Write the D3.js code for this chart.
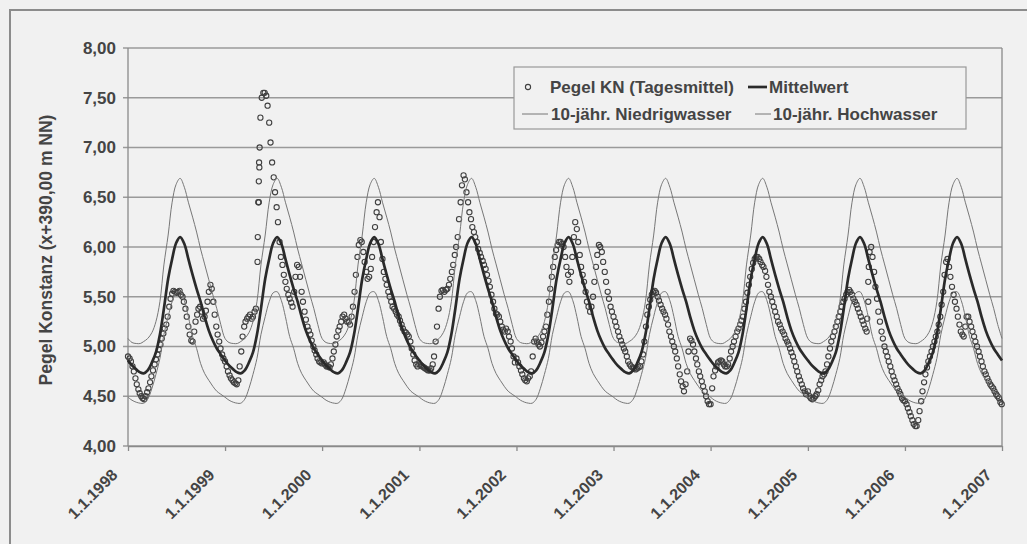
<!DOCTYPE html>
<html><head><meta charset="utf-8">
<script src="https://cdn.jsdelivr.net/npm/d3@7"></script>
<style>
html,body{margin:0;padding:0;background:#f1f1f1;}
svg{display:block;}
text{font-family:"Liberation Sans",Arial,sans-serif;}
</style></head>
<body>
<svg id="chart" width="1027" height="544"></svg>
<script>
// ---------- data ----------
const years = [1998,1999,2000,2001,2002,2003,2004,2005,2006];
const xTickLabels = ["1.1.1998","1.1.1999","1.1.2000","1.1.2001","1.1.2002","1.1.2003","1.1.2004","1.1.2005","1.1.2006","1.1.2007"];
const yTicks = [4.0,4.5,5.0,5.5,6.0,6.5,7.0,7.5,8.0];
// day of year for the long-term annual curves
const climDays = [0,15,31,46,59,74,90,105,120,135,151,166,181,196,212,227,243,258,273,288,304,319,334,349,365];
const mittelwert    = [4.86,4.81,4.77,4.74,4.73,4.76,4.84,4.94,5.12,5.38,5.68,5.88,6.04,6.10,6.03,5.88,5.72,5.58,5.45,5.30,5.16,5.06,4.98,4.92,4.86];
const hochwasser    = [5.08,5.04,5.03,5.03,5.05,5.08,5.14,5.25,5.45,5.82,6.12,6.45,6.63,6.69,6.60,6.45,6.30,6.15,5.98,5.83,5.67,5.52,5.38,5.22,5.08];
const niedrigwasser = [4.49,4.46,4.44,4.43,4.43,4.47,4.58,4.72,4.88,5.12,5.30,5.45,5.54,5.55,5.46,5.30,5.10,4.98,4.83,4.73,4.66,4.60,4.55,4.52,4.49];
// gauge readings (daily means), 66 readings per year, evenly spaced from 1 January
const pegel1998 = [4.90,4.88,4.85,4.80,4.75,4.68,4.62,4.57,4.53,4.50,4.48,4.47,4.50,4.54,4.58,4.64,4.70,4.76,4.82,4.87,4.92,4.97,5.02,5.08,5.13,5.18,5.22,5.30,5.40,5.48,5.53,5.56,5.55,5.54,5.55,5.56,5.52,5.50,5.45,5.38,5.30,5.20,5.12,5.06,5.05,5.15,5.25,5.32,5.38,5.40,5.35,5.28,5.30,5.36,5.45,5.55,5.62,5.58,5.45,5.32,5.20,5.12,5.05,4.98,4.92,4.88];
const pegel1999 = [4.85,4.80,4.75,4.71,4.68,4.66,4.64,4.63,4.62,4.66,4.80,4.95,5.10,5.20,5.25,5.28,5.30,5.32,5.28,5.30,5.35,5.38,5.85,6.45,7.30,7.50,7.55,7.55,7.52,7.42,7.25,7.05,6.85,6.70,6.55,6.40,6.25,6.05,5.90,5.82,5.72,5.65,5.58,5.52,5.48,5.44,5.40,5.55,5.70,5.82,5.80,5.70,5.55,5.45,5.35,5.27,5.20,5.16,5.12,5.06,5.00,4.96,4.92,4.88,4.85,4.84];
const pegel2000 = [4.83,4.84,4.82,4.80,4.80,4.79,4.82,4.88,4.95,5.02,5.10,5.16,5.20,5.25,5.30,5.32,5.28,5.25,5.25,5.22,5.30,5.40,5.55,5.72,5.90,6.02,6.07,6.05,5.95,5.85,5.75,5.68,5.70,5.78,5.90,6.05,6.20,6.35,6.45,6.30,6.05,5.88,5.75,5.68,5.62,5.55,5.50,5.45,5.40,5.38,5.35,5.32,5.30,5.26,5.22,5.18,5.15,5.14,5.12,5.10,5.05,4.98,4.92,4.86,4.82,4.80];
const pegel2001 = [4.82,4.81,4.80,4.79,4.78,4.77,4.76,4.76,4.78,4.82,4.90,5.05,5.20,5.38,5.50,5.56,5.57,5.55,5.57,5.58,5.62,5.68,5.75,5.82,5.92,6.00,6.10,6.28,6.45,6.62,6.72,6.68,6.55,6.45,6.35,6.28,6.20,6.15,6.10,6.05,5.98,5.94,5.90,5.86,5.82,5.78,5.72,5.66,5.60,5.52,5.45,5.38,5.33,5.32,5.30,5.25,5.20,5.17,5.15,5.18,5.15,5.10,5.05,4.98,4.90,4.84];
const pegel2002 = [4.88,4.84,4.80,4.76,4.72,4.68,4.66,4.65,4.68,4.70,4.75,4.90,5.05,5.08,5.05,5.02,5.00,5.04,5.10,5.15,5.20,5.32,5.45,5.58,5.70,5.80,5.90,5.97,6.02,6.05,6.05,6.03,6.00,5.90,5.80,5.72,5.65,5.75,5.90,6.10,6.25,6.18,6.05,5.92,5.80,5.72,5.65,5.55,5.45,5.40,5.35,5.40,5.50,5.65,5.80,5.92,6.02,6.00,5.95,5.85,5.75,5.65,5.55,5.48,5.40,5.35];
const pegel2003 = [5.30,5.25,5.20,5.15,5.10,5.06,5.02,4.98,4.95,4.90,4.85,4.82,4.80,4.79,4.78,4.77,4.78,4.79,4.80,4.85,4.92,5.05,5.20,5.32,5.40,5.47,5.52,5.55,5.56,5.54,5.50,5.46,5.42,5.38,5.35,5.32,5.28,5.22,5.15,5.10,5.05,5.00,4.95,4.88,4.80,4.72,4.65,4.60,4.55,4.62,4.75,4.95,5.08,5.06,5.02,4.95,4.88,4.82,4.75,4.70,4.65,4.60,4.55,4.50,4.45,4.42];
const pegel2004 = [4.42,4.58,4.70,4.76,4.80,4.84,4.85,4.86,4.85,4.82,4.80,4.80,4.82,4.88,4.95,5.00,5.05,5.10,5.15,5.18,5.22,5.26,5.30,5.38,5.45,5.54,5.62,5.70,5.78,5.84,5.88,5.90,5.90,5.88,5.85,5.82,5.80,5.76,5.70,5.62,5.55,5.50,5.45,5.40,5.35,5.30,5.25,5.22,5.18,5.15,5.12,5.08,5.05,5.02,4.98,4.94,4.90,4.85,4.80,4.75,4.70,4.66,4.62,4.58,4.55,4.52];
const pegel2005 = [4.55,4.50,4.48,4.47,4.48,4.50,4.52,4.56,4.62,4.66,4.70,4.72,4.75,4.82,4.90,4.98,5.05,5.10,5.15,5.20,5.25,5.30,5.35,5.40,5.45,5.48,5.52,5.55,5.57,5.55,5.52,5.48,5.45,5.42,5.38,5.34,5.30,5.26,5.22,5.18,5.15,5.45,5.95,6.00,5.90,5.75,5.60,5.48,5.35,5.25,5.15,5.08,5.00,4.95,4.90,4.85,4.80,4.75,4.70,4.66,4.62,4.58,4.55,4.52,4.48,4.46];
const pegel2006 = [4.45,4.42,4.38,4.34,4.30,4.26,4.22,4.20,4.20,4.26,4.35,4.45,4.55,4.64,4.72,4.79,4.85,4.90,4.95,5.00,5.05,5.10,5.15,5.22,5.30,5.42,5.55,5.72,5.85,5.88,5.80,5.70,5.60,5.52,5.45,5.38,5.30,5.22,5.15,5.12,5.10,5.20,5.30,5.30,5.25,5.20,5.15,5.10,5.05,5.00,4.95,4.90,4.85,4.80,4.75,4.72,4.68,4.65,4.62,4.60,4.58,4.55,4.52,4.50,4.48,4.44];
// additional single readings on steep stretches
const pegelExtraDates  = ["1999-05-04","1999-05-06","1999-05-08","1999-05-09","1999-05-10","1999-05-11","2005-08-12","2005-08-16","2005-08-18","2006-12-31"];
const pegelExtraValues = [6.10,6.45,6.66,6.85,6.80,7.00,5.28,5.65,5.80,4.42];
const pegelByYear = [pegel1998,pegel1999,pegel2000,pegel2001,pegel2002,pegel2003,pegel2004,pegel2005,pegel2006];

const legendLabels = ["Pegel KN (Tagesmittel)","Mittelwert","10-jähr. Niedrigwasser","10-jähr. Hochwasser"];
const yTitle = "Pegel Konstanz (x+390,00 m NN)";

// ---------- build ----------
const svg = d3.select("#chart");
const W = 1027, H = 544;
const m = {left:128, top:48, right:1002, bottom:446};
const textCol = "#444";

const x = d3.scaleTime().domain([new Date(1998,0,1), new Date(2007,0,1)]).range([m.left, m.right]);
const y = d3.scaleLinear().domain([4,8]).range([m.bottom, m.top]);

const de = d3.formatLocale({decimal:",", thousands:".", grouping:[3], currency:["","€"]});
const fmt = de.format(".2f");

// background + outer frame
svg.append("rect").attr("width",W).attr("height",H).attr("fill","#f1f1f1");
svg.append("path").attr("d",`M10,${H+5}V10H${W+5}`).attr("fill","none").attr("stroke","#8c8c8c").attr("stroke-width",2);

// gridlines
svg.append("g").selectAll("line").data(yTicks).join("line")
  .attr("x1",m.left-5).attr("x2",m.right)
  .attr("y1",d=>y(d)).attr("y2",d=>y(d))
  .attr("stroke","#9a9a9a").attr("stroke-width",1.3);
svg.append("line").attr("x1",m.left).attr("x2",m.left).attr("y1",m.top).attr("y2",m.bottom).attr("stroke","#8a8a8a").attr("stroke-width",1.3);
svg.append("line").attr("x1",m.right).attr("x2",m.right).attr("y1",m.top).attr("y2",m.bottom).attr("stroke","#8a8a8a").attr("stroke-width",1.3);

// y axis labels
const yAxis = d3.axisLeft(y).tickValues(yTicks).tickFormat(fmt).tickSize(0).tickPadding(12);
const gy = svg.append("g").attr("transform",`translate(${m.left},0)`).call(yAxis);
gy.select(".domain").remove();
gy.selectAll("text").attr("fill",textCol).attr("font-size",17).attr("font-weight","bold")
  .attr("font-family","'Liberation Sans',Arial,sans-serif");

// x axis
const xTicks = d3.timeYear.range(new Date(1998,0,1), new Date(2007,0,2));
const xAxis = d3.axisBottom(x).tickValues(xTicks).tickFormat((d,i)=>xTickLabels[i]).tickSize(5).tickSizeOuter(0);
const gx = svg.append("g").attr("transform",`translate(0,${m.bottom})`).call(xAxis);
gx.select(".domain").attr("stroke","#8a8a8a").attr("stroke-width",1.3);
gx.selectAll(".tick line").attr("stroke","#8a8a8a").attr("stroke-width",1.3);
gx.selectAll("text").attr("fill",textCol).attr("font-size",16).attr("font-weight","bold")
  .attr("font-family","'Liberation Sans',Arial,sans-serif")
  .attr("x",0).attr("y",0).attr("dy",0).attr("text-anchor","end")
  .attr("transform","translate(-10,30) rotate(-45)");

// y title
svg.append("text").attr("transform",`translate(52,250) rotate(-90)`)
  .attr("text-anchor","middle").attr("fill",textCol).attr("font-size",17.5).attr("font-weight","bold")
  .text(yTitle);

// annual curves tiled over the years
function tile(vals){
  const pts = [];
  years.forEach((yr,k)=>{
    climDays.forEach((d,i)=>{
      if(i===climDays.length-1 && k<years.length-1) return;
      pts.push({date:new Date(yr,0,1+d), v:vals[i]});
    });
  });
  return pts;
}
const line = d3.line().x(d=>x(d.date)).y(d=>y(d.v)).curve(d3.curveCatmullRom.alpha(0.5));
const plot = svg.append("g");

// pegel points
const pegelPts = [];
years.forEach((yr,k)=>{
  const arr = pegelByYear[k];
  const n = arr.length;
  arr.forEach((v,i)=>pegelPts.push({date:new Date(yr,0,1+Math.round(i*365/n)), v}));
});
pegelExtraDates.forEach((s,i)=>pegelPts.push({date:d3.timeParse("%Y-%m-%d")(s), v:pegelExtraValues[i]}));

plot.append("g").selectAll("circle").data(pegelPts).join("circle")
  .attr("cx",d=>x(d.date)).attr("cy",d=>y(d.v)).attr("r",2.6)
  .attr("fill","none").attr("stroke","#404040").attr("stroke-width",1.1);

plot.append("path").datum(tile(mittelwert)).attr("d",line)
  .attr("fill","none").attr("stroke","#2a2a2a").attr("stroke-width",2.7);
plot.append("path").datum(tile(niedrigwasser)).attr("d",line)
  .attr("fill","none").attr("stroke","#777").attr("stroke-width",1);
plot.append("path").datum(tile(hochwasser)).attr("d",line)
  .attr("fill","none").attr("stroke","#777").attr("stroke-width",1);

// legend
const lg = svg.append("g");
lg.append("rect").attr("x",514).attr("y",67).attr("width",452).attr("height",62)
  .attr("fill","#f1f1f1").attr("stroke","#999").attr("stroke-width",1.2);
const r1 = 87, r2 = 114;
lg.append("circle").attr("cx",528).attr("cy",r1).attr("r",2.6).attr("fill","none").attr("stroke","#404040").attr("stroke-width",1.1);
lg.append("line").attr("x1",748).attr("x2",767).attr("y1",r1).attr("y2",r1).attr("stroke","#2a2a2a").attr("stroke-width",2.7);
lg.append("line").attr("x1",522).attr("x2",548).attr("y1",r2).attr("y2",r2).attr("stroke","#777").attr("stroke-width",1);
lg.append("line").attr("x1",755).attr("x2",771).attr("y1",r2).attr("y2",r2).attr("stroke","#777").attr("stroke-width",1);
const lpos = [[550,r1],[769,r1],[551,r2],[773,r2]];
lg.selectAll("text").data(legendLabels).join("text")
  .attr("x",(d,i)=>lpos[i][0]).attr("y",(d,i)=>lpos[i][1]).attr("dy","0.35em")
  .attr("fill",textCol).attr("font-size",17).attr("font-weight","bold").text(d=>d);
</script>
</body></html>
